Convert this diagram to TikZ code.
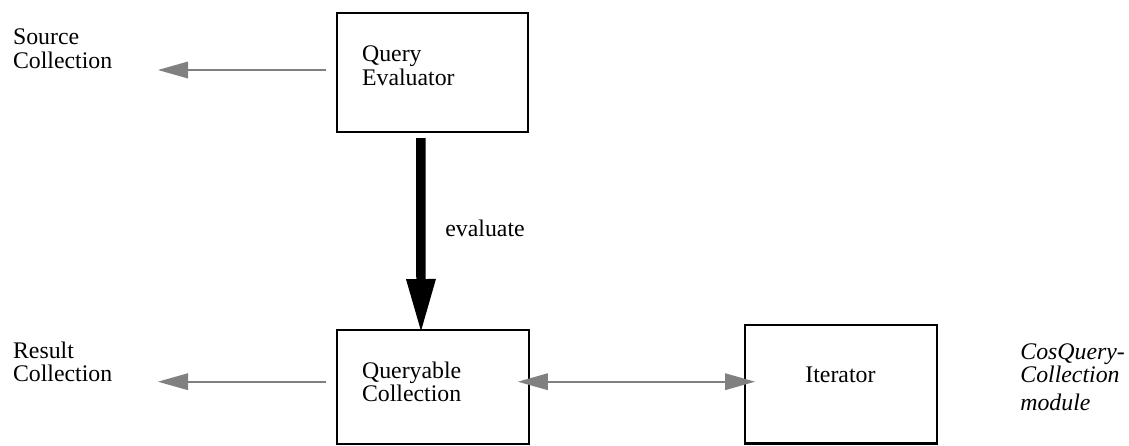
\documentclass[tikz,border=0pt]{standalone}
\usepackage{fontspec}
\setmainfont{Liberation Serif}
\usetikzlibrary{arrows.meta}
\definecolor{ag}{RGB}{128,128,128}
\tikzset{bx/.append style={draw,rectangle,line width=1.1pt,inner sep=0pt}}
\tikzset{tx/.append style={inner sep=0pt,align=left,anchor=base west,font=\fontsize{11.9pt}{11.6pt}\selectfont}}
\tikzset{ga/.append style={draw=ag,line width=0.85pt,-{Triangle[length=15pt,width=8.5pt,line width=0pt]}}}
\tikzset{gb/.append style={draw=ag,line width=0.85pt,{Triangle[length=15pt,width=8.5pt,line width=0pt]}-{Triangle[length=15pt,width=8.5pt,line width=0pt]}}}
\tikzset{fa/.append style={line width=4.7pt,-{Triangle[length=26pt,width=15pt,line width=0pt]}}}

\begin{document}
\begin{tikzpicture}[x=0.5pt,y=-0.5pt]
                \useasboundingbox (0,0) rectangle (1129,445);
                % boxes
                \node[bx,minimum width=95.7pt,minimum height=59.5pt] (qe) at (432.4,72.5) {};
                \node[bx,minimum width=96.1pt,minimum height=56.8pt] (qc) at (432.8,386.8) {};
                \node[bx,minimum width=95.8pt,minimum height=59.3pt] (it) at (840.8,384.2) {};
                % texts (base = last line)
                \node[tx] (srcTxt) at (12.7,68) {Source\\Collection};
                \node[tx] (resTxt) at (12.7,381.7) {Result\\Collection};
                \node[tx] (qeTxt) at (361.7,85) {Query\\Evaluator};
                \node[tx] (qcTxt) at (361.7,401.7) {Queryable\\Collection};
                \node[tx] (itTxt) at (805,382) {Iterator};
                \node[tx] (evTxt) at (445,236.7) {evaluate};
                \node[tx,font=\fontsize{11.9pt}{11.6pt}\selectfont\itshape] (modTxt) at (1020,410) {CosQuery-\\Collection\\[2pt]module};
                % ends
                \coordinate (srcTip) at (158,70);
                \coordinate (resTip) at (158,381.7);
                \path ([xshift=-4.8pt,yshift=1.25pt]qe.west) edge[ga] (srcTip);
                \path ([xshift=-4.8pt,yshift=2.55pt]qc.west) edge[ga] (resTip);
                \path ([xshift=-5.8pt,yshift=-2.45pt]qe.south) edge[fa] ([xshift=-5.9pt,yshift=-1.05pt]qc.north);
                \path ([xshift=-6.05pt,yshift=2.55pt]qc.east) edge[gb] ([xshift=5.55pt,yshift=1.25pt]it.west);
            \end{tikzpicture}
\end{document}
